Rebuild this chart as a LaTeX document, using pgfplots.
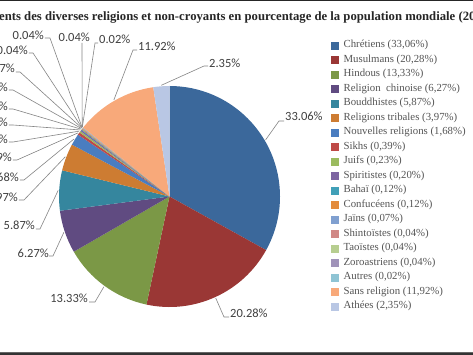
\documentclass[border=0pt]{standalone}
\usepackage{pgfplots}
\usepackage{pgfplotstable}
\pgfplotsset{compat=1.18}
\usetikzlibrary{calc}
\usepackage{fontspec}
\setmainfont{Liberation Serif}
\newfontfamily\labelfont{Carlito}

\definecolor{c1}{HTML}{3B689B}
\definecolor{c2}{HTML}{9A3735}
\definecolor{c3}{HTML}{7B9846}
\definecolor{c4}{HTML}{604B81}
\definecolor{c5}{HTML}{35869E}
\definecolor{c6}{HTML}{CD7C32}
\definecolor{c7}{HTML}{4A7DC0}
\definecolor{c8}{HTML}{BF4A47}
\definecolor{c9}{HTML}{9BBB5F}
\definecolor{c10}{HTML}{7D65A2}
\definecolor{c11}{HTML}{41A0B8}
\definecolor{c12}{HTML}{E38B3C}
\definecolor{c13}{HTML}{80A0D0}
\definecolor{c14}{HTML}{D08886}
\definecolor{c15}{HTML}{B7CE90}
\definecolor{c16}{HTML}{A093B9}
\definecolor{c17}{HTML}{8FC4D4}
\definecolor{c18}{HTML}{F8A97A}
\definecolor{c19}{HTML}{B9C7E4}
\definecolor{lblgray}{HTML}{404040}
\definecolor{leadgray}{HTML}{858585}
\definecolor{leggray}{HTML}{555555}

% value, colour, label edge x, label centre y, anchor, elbow x, elbow y, stub end x (pixels, y from top)
\pgfplotstableread[col sep=comma]{
value,col,lx,ly,anc,ex,ey,hx
33.06,c1,285,116,west,279,121,284
20.28,c2,230,313,west,224,317,229
13.33,c3,88,298,east,95,302,89
6.27,c4,49,253,east,53,256,49
5.87,c5,35,225,east,40,229,36
3.97,c6,18,197,east,24,200,19
1.68,c7,19,177,east,24,180,20
0.39,c8,12,157,east,17,160,13
0.23,c9,8,139,east,13,142,9
0.20,c10,8,122,east,13,125,9
0.12,c11,8,106,east,13,109,9
0.12,c12,8,87,east,13,90,9
0.07,c13,15,68,east,20,72,16
0.04,c14,28,50,east,33,53,29
0.04,c15,44,35,east,50,38,45
0.04,c16,90,37,east,82,43,82
0.02,c17,99,39,west,95,43,98
11.92,c18,138,46,west,133,50,137
2.35,c19,209,63,west,204,66,208
}\religions

\pgfplotsset{sq/.style={legend image code/.code={\fill[#1] (0pt,-3.5pt) rectangle (7pt,3.5pt);}}}

\begin{document}
\begin{tikzpicture}
\path[use as bounding box] (0,0) rectangle (473pt,355pt);
\clip (0,0) rectangle (473pt,355pt);
\fill[white] (0,0) rectangle (473pt,355pt);
\begin{axis}[
  at={(0,0)}, anchor=south west,
  scale only axis, width=473pt, height=355pt,
  xmin=0, xmax=473, ymin=0, ymax=355, y dir=reverse,
  hide axis, clip=false,
  legend cell align=left,
  legend style={
    at={(axis description cs:0.6987,0.887)}, anchor=north west,
    draw=none, fill=none, inner sep=0pt,
    font=\fontsize{10.8}{12}\selectfont,
    text=leggray,
    nodes={inner sep=0pt, text height=7.5pt, text depth=2.5pt},
    row sep=4.5pt, column sep=5.5pt,
  },
]
\pgfplotsextra{
  \pgfplotstablegetrowsof{\religions}
  \pgfmathtruncatemacro{\N}{\pgfplotsretval-1}
  \gdef\cum{0}
  \foreach \i in {0,...,\N}{
    \pgfplotstablegetelem{\i}{value}\of{\religions}\let\v\pgfplotsretval
    \pgfplotstablegetelem{\i}{col}\of{\religions}\let\c\pgfplotsretval
    \pgfmathsetmacro{\aS}{90-3.6*\cum}
    \pgfmathsetmacro{\aE}{90-3.6*(\cum+\v)}
    \fill[fill=\c] (axis cs:169.5,196.5) -- ++(\aS:110.5pt)
       arc[start angle=\aS, end angle=\aE, radius=110.5pt] -- cycle;
    \pgfmathsetmacro{\newcum}{\cum+\v}
    \xdef\cum{\newcum}
  }
  \gdef\cum{0}
  \foreach \i in {0,...,\N}{
    \pgfplotstablegetelem{\i}{value}\of{\religions}\let\v\pgfplotsretval
    \pgfplotstablegetelem{\i}{lx}\of{\religions}\let\lx\pgfplotsretval
    \pgfplotstablegetelem{\i}{ly}\of{\religions}\let\ly\pgfplotsretval
    \pgfplotstablegetelem{\i}{anc}\of{\religions}\let\anc\pgfplotsretval
    \pgfplotstablegetelem{\i}{ex}\of{\religions}\let\ex\pgfplotsretval
    \pgfplotstablegetelem{\i}{ey}\of{\religions}\let\ey\pgfplotsretval
    \pgfplotstablegetelem{\i}{hx}\of{\religions}\let\hx\pgfplotsretval
    \pgfmathsetmacro{\aM}{90-3.6*(\cum+\v/2)}
    \draw[leadgray, line width=0.6pt] ($(axis cs:169.5,196.5)+(\aM:111.5pt)$) -- (axis cs:\ex,\ey) -- (axis cs:\hx,\ey);
    \node[anchor=\anc, inner sep=0pt, text=lblgray, font=\labelfont\fontsize{12.5}{14}\selectfont]
      at (axis cs:\lx,\ly) {\pgfmathprintnumber[fixed,precision=2,fixed zerofill,assume math mode=true]{\v}\%};
    \pgfmathsetmacro{\newcum}{\cum+\v}
    \xdef\cum{\newcum}
  }
  \node[anchor=base west, inner sep=0pt, text=black!85, font=\fontsize{12.7}{15}\selectfont\bfseries]
    at (axis cs:-1,20.5) {\llap{Adhér}ents des diverses religions et non-croyants en pourcentage de la population mondiale (2005)};
}
\addlegendimage{sq=c1}\addlegendentry{Chrétiens (33,06\%)}
\addlegendimage{sq=c2}\addlegendentry{Musulmans (20,28\%)}
\addlegendimage{sq=c3}\addlegendentry{Hindous (13,33\%)}
\addlegendimage{sq=c4}\addlegendentry{Religion\ \ chinoise (6,27\%)}
\addlegendimage{sq=c5}\addlegendentry{Bouddhistes (5,87\%)}
\addlegendimage{sq=c6}\addlegendentry{Religions tribales (3,97\%)}
\addlegendimage{sq=c7}\addlegendentry{Nouvelles religions (1,68\%)}
\addlegendimage{sq=c8}\addlegendentry{Sikhs (0,39\%)}
\addlegendimage{sq=c9}\addlegendentry{Juifs (0,23\%)}
\addlegendimage{sq=c10}\addlegendentry{Spiritistes (0,20\%)}
\addlegendimage{sq=c11}\addlegendentry{Bahaï (0,12\%)}
\addlegendimage{sq=c12}\addlegendentry{Confucéens (0,12\%)}
\addlegendimage{sq=c13}\addlegendentry{Jaïns (0,07\%)}
\addlegendimage{sq=c14}\addlegendentry{Shintoïstes (0,04\%)}
\addlegendimage{sq=c15}\addlegendentry{Taoïstes (0,04\%)}
\addlegendimage{sq=c16}\addlegendentry{Zoroastriens (0,04\%)}
\addlegendimage{sq=c17}\addlegendentry{Autres (0,02\%)}
\addlegendimage{sq=c18}\addlegendentry{Sans religion (11,92\%)}
\addlegendimage{sq=c19}\addlegendentry{Athées (2,35\%)}
\end{axis}
\fill[black!80] (0,0) rectangle (473pt,2.5pt);
\fill[black!60] (0,2.5pt) rectangle (473pt,3.3pt);
\fill[black!85] (0,353.6pt) rectangle (473pt,355pt);
\end{tikzpicture}
\end{document}
